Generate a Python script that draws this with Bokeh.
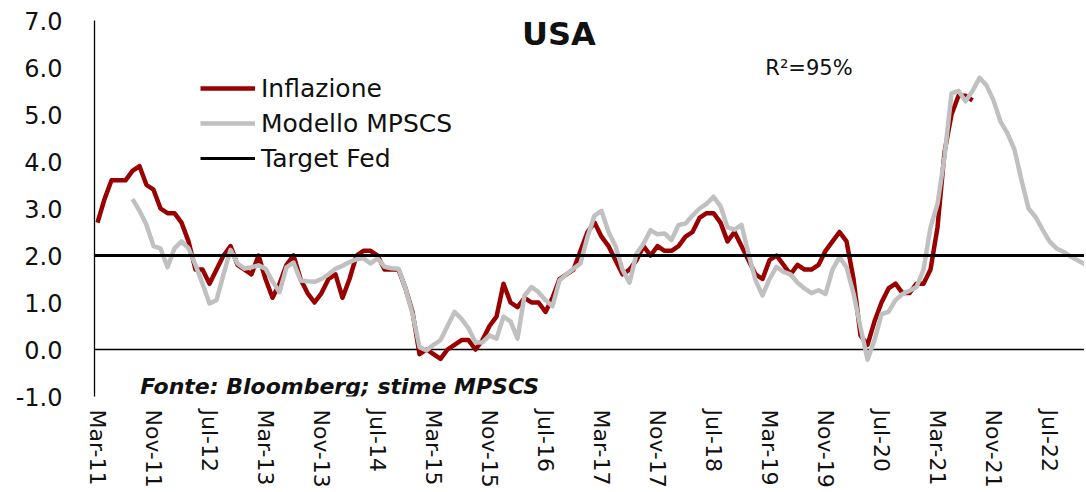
from bokeh.plotting import figure
from bokeh.models import Range1d, FixedTicker, Span, Label, Legend, LegendItem, NumeralTickFormatter
from bokeh.embed import file_html
from bokeh.resources import INLINE

NA = float("nan")

# Monthly data, first month = Mar-11
tick_labels = ["Mar-11", "Nov-11", "Jul-12", "Mar-13", "Nov-13", "Jul-14", "Mar-15", "Nov-15",
               "Jul-16", "Mar-17", "Nov-17", "Jul-18", "Mar-19", "Nov-19", "Jul-20", "Mar-21",
               "Nov-21", "Jul-22"]
tick_step = 8  # months between labels

inflazione = [2.7, 3.2, 3.6, 3.6, 3.6, 3.8, 3.9, 3.5, 3.4, 3.0,
              2.9, 2.9, 2.7, 2.3, 1.7, 1.7, 1.4, 1.7, 2.0, 2.2, 1.8, 1.7,
              1.6, 2.0, 1.5, 1.1, 1.4, 1.8, 2.0, 1.5, 1.2, 1.0, 1.2, 1.5,
              1.6, 1.1, 1.5, 2.0, 2.1, 2.1, 2.0, 1.7, 1.7, 1.7, 1.3, 0.8,
              -0.1, 0.0, -0.1, -0.2, 0.0, 0.1, 0.2, 0.2, 0.0, 0.2, 0.5, 0.7,
              1.4, 1.0, 0.9, 1.1, 1.0, 1.0, 0.8, 1.1, 1.5, 1.6, 1.7, 2.1,
              2.5, 2.7, 2.4, 2.2, 1.9, 1.6, 1.7, 1.9, 2.2, 2.0, 2.2, 2.1,
              2.1, 2.2, 2.4, 2.5, 2.8, 2.9, 2.9, 2.7, 2.3, 2.5, 2.2, 1.9,
              1.6, 1.5, 1.9, 2.0, 1.8, 1.6, 1.8, 1.7, 1.7, 1.8, 2.1, 2.3,
              2.5, 2.3, 1.5, 0.3, 0.1, 0.6, 1.0, 1.3, 1.4, 1.2, 1.2, 1.4,
              1.4, 1.7, 2.6, 4.2, 5.0, 5.4, 5.4, 5.3]

modello = [NA, NA, NA, NA, NA, 3.20, 2.95, 2.65, 2.20, 2.15,
           1.75, 2.15, 2.30, 2.15, 1.80, 1.40, 0.98, 1.05, 1.60, 2.12,
           1.83, 1.72, 1.75, 1.79, 1.72, 1.45, 1.22, 1.75, 1.85, 1.47,
           1.45, 1.44, 1.50, 1.60, 1.72, 1.78, 1.86, 1.92, 1.94, 1.83,
           1.94, 1.76, 1.73, 1.72, 1.30, 0.76, 0.05, -0.02, 0.10, 0.20,
           0.50, 0.80, 0.65, 0.45, 0.15, 0.15, 0.30, 0.23, 0.70, 0.60,
           0.23, 1.15, 1.33, 1.22, 1.05, 0.92, 1.47, 1.60, 1.72, 1.83,
           2.40, 2.85, 2.95, 2.50, 2.20, 1.70, 1.42, 2.04, 2.25, 2.54,
           2.45, 2.47, 2.33, 2.65, 2.68, 2.85, 3.00, 3.10, 3.25, 3.05,
           2.60, 2.55, 2.65, 2.04, 1.47, 1.15, 1.50, 1.76, 1.65, 1.60,
           1.42, 1.30, 1.20, 1.26, 1.18, 1.70, 1.97, 1.75, 1.19, 0.47,
           -0.22, 0.20, 0.75, 0.80, 1.05, 1.18, 1.25, 1.33, 1.70, 2.60,
           3.10, 4.10, 5.45, 5.50, 5.28, 5.50, 5.78, 5.62, 5.30, 4.85,
           4.60, 4.25, 3.60, 3.00, 2.82, 2.55, 2.30, 2.15, 2.08, 1.98,
           1.90, 1.82, 1.75]

target_fed = 2.0
y_ticks = [-1, 0, 1, 2, 3, 4, 5, 6, 7]

FONT = "DejaVu Sans"
TXT = "#111111"

x_infl = list(range(len(inflazione)))
x_mod = list(range(len(modello)))

W, H = 1084, 490
p = figure(width=W, height=H, output_backend="svg", toolbar_location=None,
           x_range=Range1d(-0.43, -0.43 + (W - 94) / 7.0), y_range=Range1d(y_ticks[0], y_ticks[-1]),
           min_border_left=94, min_border_top=20, min_border_right=0, min_border_bottom=H - 397,
           background_fill_color="white", border_fill_color="white")
p.outline_line_color = None
p.xgrid.visible = False
p.ygrid.visible = False

# x axis (labels low)
ticks = [tick_step * k for k in range(len(tick_labels))]
p.xaxis.ticker = FixedTicker(ticks=ticks)
p.xaxis.major_label_overrides = {t: lab for t, lab in zip(ticks, tick_labels)}
p.xaxis.major_label_orientation = "vertical"
p.xaxis.axis_line_color = None
p.xaxis.major_tick_line_color = None
p.xaxis.minor_tick_line_color = None
p.xaxis.major_tick_out = 0
p.xaxis.minor_tick_out = 0
p.xaxis.major_label_standoff = 13
p.xaxis.major_label_text_font = FONT
p.xaxis.major_label_text_font_size = "22px"
p.xaxis.major_label_text_color = TXT

# y axis
p.yaxis.ticker = FixedTicker(ticks=y_ticks)
p.yaxis.formatter = NumeralTickFormatter(format="0.0")
p.yaxis.axis_line_color = "black"
p.yaxis.axis_line_width = 1.3
p.yaxis.major_tick_line_color = None
p.yaxis.minor_tick_line_color = None
p.yaxis.major_tick_out = 0
p.yaxis.minor_tick_out = 0
p.yaxis.major_label_standoff = 32
p.yaxis.major_label_text_font = FONT
p.yaxis.major_label_text_font_size = "24px"
p.yaxis.major_label_text_color = TXT

# zero line (category axis crossing)
p.add_layout(Span(location=0, dimension="width", line_color="black", line_width=1.3, level="underlay"))

r_infl = p.line(x_infl, inflazione, line_color="#990000", line_width=4.5, line_join="round")
r_mod = p.line(x_mod, modello, line_color="#c0c0c0", line_width=4.5, line_join="round")
r_tgt = p.line([x_mod[0] - 2, x_mod[-1] + 2], [target_fed, target_fed], line_color="black", line_width=3)

legend = Legend(items=[LegendItem(label="Inflazione", renderers=[r_infl]),
                       LegendItem(label="Modello MPSCS", renderers=[r_mod]),
                       LegendItem(label="Target Fed", renderers=[r_tgt])],
                location=(106, 221), orientation="vertical",
                glyph_width=55, glyph_height=34, label_height=34, spacing=1,
                padding=0, margin=0, label_standoff=6,
                border_line_color=None, background_fill_alpha=0,
                label_text_font=FONT, label_text_font_size="25px", label_text_color=TXT)
p.add_layout(legend)

p.add_layout(Label(x=65.9, y=6.72, text="USA", text_font=FONT, text_font_style="bold",
                   text_font_size="32px", text_align="center", text_baseline="middle",
                   text_color=TXT))
p.add_layout(Label(x=95.4, y=6.0, text="R²=95%", text_font=FONT, text_font_size="21px",
                   text_align="left", text_baseline="middle", text_color=TXT))
p.add_layout(Label(x=6.1, y=-0.79, text="Fonte: Bloomberg; stime MPSCS", text_font=FONT,
                   text_font_style="bold italic", text_font_size="22px", text_align="left",
                   text_baseline="middle", text_color=TXT))

open("out.html", "w").write(file_html(p, INLINE))
